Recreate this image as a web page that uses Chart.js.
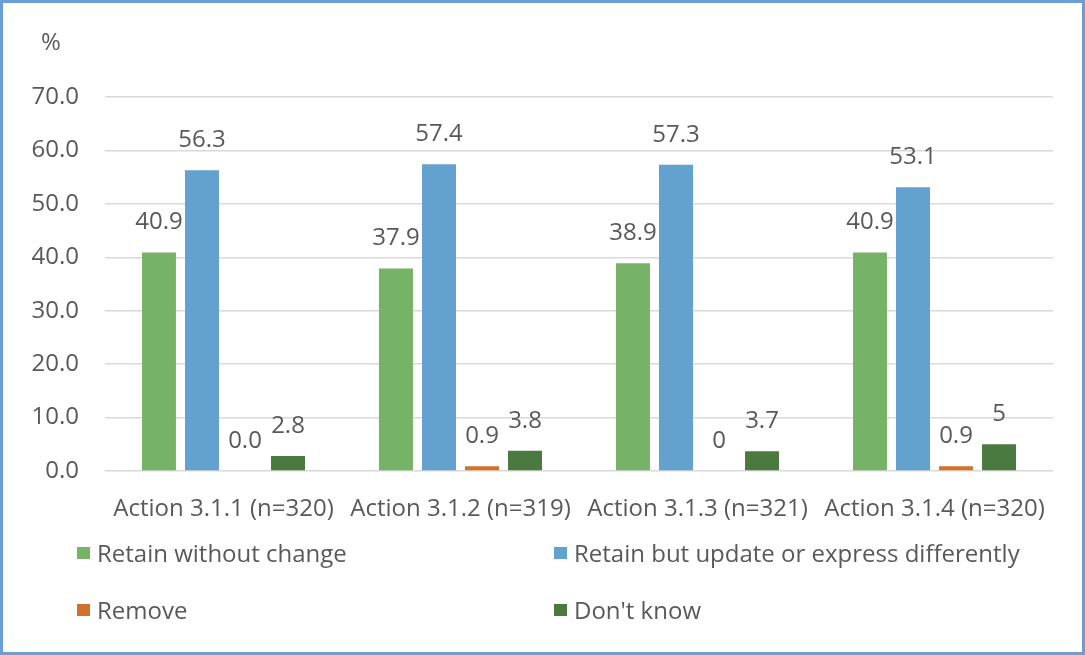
<!DOCTYPE html>
<html>
<head>
<meta charset="utf-8">
<script src="https://cdn.jsdelivr.net/npm/chart.js@4.4.1/dist/chart.umd.min.js"></script>
<style>
  html, body { margin: 0; padding: 0; background: #ffffff; }
  #wrap { width: 1085px; height: 655px; position: relative; }
</style>
</head>
<body>
<div id="wrap"><canvas id="c" width="1085" height="655"></canvas></div>
<script>
// Survey responses per action (percent of respondents)
const categories = ['Action 3.1.1 (n=320)', 'Action 3.1.2 (n=319)', 'Action 3.1.3 (n=321)', 'Action 3.1.4 (n=320)'];
const seriesNames = ['Retain without change', 'Retain but update or express differently', 'Remove', "Don't know"];
const retainLabels = ['40.9', '37.9', '38.9', '40.9'];
const updateLabels = ['56.3', '57.4', '57.3', '53.1'];
const removeLabels = ['0.0', '0.9', '0', '0.9'];
const dontKnowLabels = ['2.8', '3.8', '3.7', '5'];
const yTicks = [0, 10, 20, 30, 40, 50, 60, 70];

const labelSets = [retainLabels, updateLabels, removeLabels, dontKnowLabels];
const colors = ['#77b366', '#63a1cf', '#d2712b', '#4a7a3f'];
const TEXT = '#595959';
const FONT = '"Open Sans", sans-serif';
const SIZE = 24;

const datasets = labelSets.map((labs, i) => ({
  label: seriesNames[i],
  data: labs.map(Number),
  valueText: labs,
  backgroundColor: colors[i],
  borderWidth: 0,
  categoryPercentage: 0.726,
  barPercentage: 0.79
}));

// Value labels above each bar
const valueLabels = {
  id: 'valueLabels',
  afterDatasetsDraw(chart) {
    const ctx = chart.ctx;
    ctx.save();
    ctx.font = SIZE + 'px ' + FONT;
    ctx.fillStyle = TEXT;
    ctx.textAlign = 'center';
    ctx.textBaseline = 'middle';
    chart.data.datasets.forEach((ds, di) => {
      chart.getDatasetMeta(di).data.forEach((bar, i) => {
        ctx.fillText(ds.valueText[i], bar.x, bar.y - 30);
      });
    });
    ctx.restore();
  }
};

// Unit caption, two-column legend and outer frame
const decorations = {
  id: 'decorations',
  afterDraw(chart) {
    const ctx = chart.ctx;
    ctx.save();
    ctx.fillStyle = TEXT;
    ctx.font = SIZE + 'px ' + FONT;
    ctx.textBaseline = 'middle';
    ctx.textAlign = 'left';
    ctx.fillText('%', 41, 43);

    const cols = [77, 554];
    const rows = [555, 612];
    chart.data.datasets.forEach((ds, i) => {
      const x = cols[i % 2];
      const y = rows[Math.floor(i / 2)];
      ctx.fillStyle = ds.backgroundColor;
      ctx.fillRect(x, y - 8, 13, 12);
      ctx.fillStyle = TEXT;
      ctx.fillText(ds.label, x + 20, y);
    });

    ctx.strokeStyle = '#6a9fd6';
    ctx.lineWidth = 3;
    ctx.strokeRect(1.5, 1.5, chart.width - 3, chart.height - 3);
    ctx.restore();
  }
};

new Chart(document.getElementById('c'), {
  type: 'bar',
  data: { labels: categories, datasets },
  options: {
    responsive: false,
    animation: false,
    layout: { padding: { left: 0, right: 32, top: 97, bottom: 124 } },
    plugins: { legend: { display: false }, tooltip: { enabled: false }, title: { display: false } },
    scales: {
      x: {
        grid: { display: false },
        border: { display: false },
        ticks: { color: TEXT, font: { family: FONT, size: SIZE }, padding: 16, maxRotation: 0, autoSkip: false },
        afterFit(scale) { scale.height = 60; }
      },
      y: {
        min: 0,
        max: 70,
        afterBuildTicks(scale) { scale.ticks = yTicks.map(v => ({ value: v })); },
        grid: { color: '#d9d9d9', lineWidth: 1.5, drawTicks: false },
        border: { display: false },
        ticks: { color: TEXT, font: { family: FONT, size: SIZE }, padding: 26, callback: v => Number(v).toFixed(1) },
        afterFit(scale) { scale.width = 105; }
      }
    }
  },
  plugins: [valueLabels, decorations]
});
</script>
</body>
</html>
